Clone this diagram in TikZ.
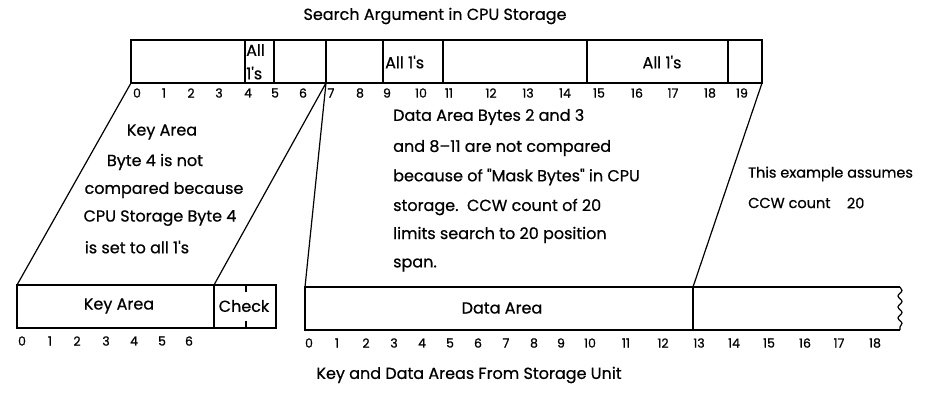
\documentclass[tikz,border=0pt]{standalone}
\usepackage{fontspec}
\setmainfont{Poppins}[FakeBold=0.6]
\usetikzlibrary{decorations.pathmorphing,positioning}
\newcommand{\apo}{\textquotesingle}
\tikzset{
  frame/.style={draw, line width=1.5pt},
  conn/.style={draw, line width=1.2pt},
  lbl/.style={inner sep=0pt, font=\fontsize{16}{18}\selectfont},
  lbls/.style={inner sep=0pt, font=\fontsize{14.5}{17}\selectfont},
  num/.style={inner sep=0pt, font=\fontsize{12.5}{14}\selectfont},
}
\begin{document}
\begin{tikzpicture}[x=1pt,y=-1pt]
\useasboundingbox (0,0) rectangle (948,400);
% titles
\node[lbl] (title1) at (435,16) {Search Argument in CPU Storage};
\node[lbl] (title2) at (469,375) {Key and Data Areas From Storage Unit};
% top bar
\coordinate (tTL) at (131,40);
\coordinate (tBL) at (131,83);
\coordinate (tB7) at (326,83);
\coordinate (tBR) at (762,83);
\draw[frame] (tTL) rectangle (tBR);
\foreach \x in {245,274,326,383,443,587,728} \draw[frame] (\x,40) -- (\x,83);
\node[lbl, anchor=west] (a4a) at (246,50) {All};
\node[lbl, anchor=west] (a4b) at (246,73) {1\apo s};
\node[lbl, anchor=west] (a9) at (385,62) {All 1\apo s};
\node[lbl] (a15) at (662,62) {All 1\apo s};
\foreach \x/\t in {137/0,164/1,191/2,219/3,248/4,275/5,303/6,331/7,360/8,387/9,421/10,449/11,491/12,528/13,565/14,599/15,637/16,673/17,710/18,742/19}
  \node[num] at (\x,93) {\t};
% key area bar
\coordinate (kTL) at (17,285);
\coordinate (kTD) at (214,285);
\coordinate (kBR) at (276,328);
\draw[frame] (kTL) rectangle (kBR);
\draw[frame] (214,285) -- (214,328);
\draw[line width=1.1pt] (246,285) -- (246,292);
\draw[line width=1.1pt] (246,321) -- (246,328);
\node[lbl] (keyarea) at (119,306) {Key Area};
\node[lbl] (check) at (244,306) {Check};
\foreach \x/\t in {22/0,50/1,77/2,106/3,134/4,162/5,189/6}
  \node[num] at (\x,341) {\t};
% data area bar
\coordinate (dTL) at (305,287);
\coordinate (d13) at (693,287);
\draw[frame] (900,287) -- (dTL) -- (305,330) -- (900,330);
\draw[frame] (d13) -- (693,330);
\draw[line width=1.2pt, decorate, decoration={snake, amplitude=2pt, segment length=11pt}] (900,287) -- (900,330);
\node[lbl] (dataarea) at (502,308) {Data Area};
\foreach \x/\t in {309/0,337/1,366/2,394/3,422/4,450/5,478/6,506/7,534/8,561/9,590/10,626/11,663/12,699/13,734/14,769/15,805/16,839/17,875/18}
  \node[num] at (\x,343) {\t};
% connectors
\draw[conn] (tBL) -- (kTL);
\draw[conn] (tB7) -- (kTD);
\draw[conn] (tB7) -- (dTL);
\draw[conn] (tBR) -- (d13);
% key text
\node[lbl] (k1) at (162,132) {Key Area};
\node[lbl] (k2) at (155,162) {Byte 4 is not};
\node[lbl] (k3) at (164,190) {compared because};
\node[lbl] (k4) at (160,218) {CPU Storage Byte 4};
\node[lbl] (k5) at (137,247) {is set to all 1\apo s};
% data text
\node[lbl, anchor=west] (d1) at (393,117) {Data Area Bytes 2 and 3};
\node[lbl, anchor=west] (d2) at (393,148) {and 8--11 are not compared};
\node[lbl, anchor=west] (d3) at (393,177) {because of \textquotedbl Mask Bytes\textquotedbl\ in CPU};
\node[lbl, anchor=west] (d4) at (393,207) {storage.\ \ CCW count of 20};
\node[lbl, anchor=west] (d5) at (393,235) {limits search to 20 position};
\node[lbl, anchor=west] (d6) at (393,265) {span.};
% example text
\node[lbls, anchor=west] (e1) at (748,174) {This example assumes};
\node[lbls, anchor=west] (e2) at (748,203) {CCW count};
\node[lbls, right=16pt of e2] (e3) {20};
\end{tikzpicture}
\end{document}
